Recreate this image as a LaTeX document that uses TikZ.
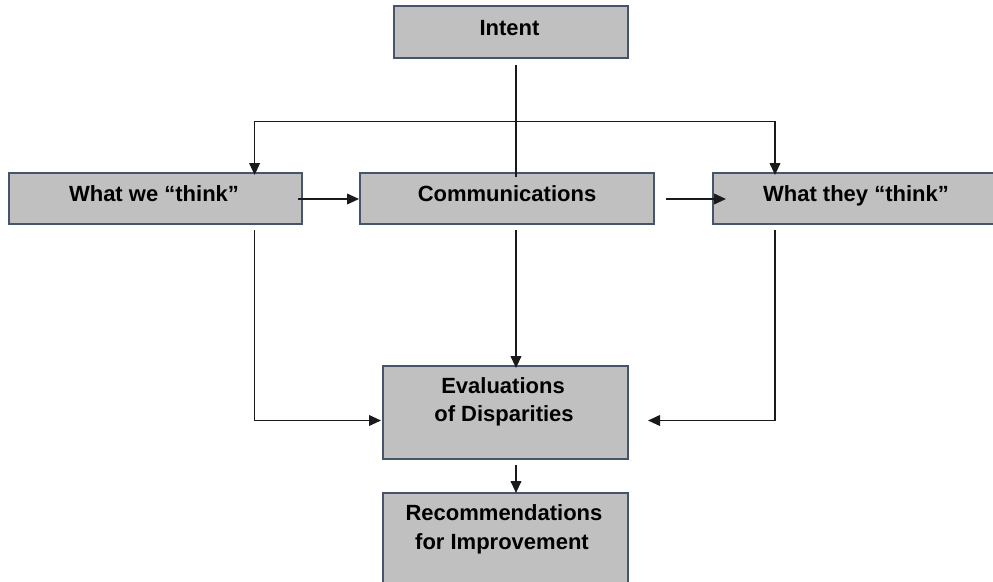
\documentclass[tikz,border=0pt]{standalone}
\usepackage{fontspec}
\setmainfont{Liberation Sans}
\usetikzlibrary{arrows.meta,calc}
\definecolor{boxfill}{HTML}{C0C0C0}
\definecolor{boxedge}{HTML}{46546C}
\definecolor{wirecol}{HTML}{1A1A1A}
\begin{document}
\begin{tikzpicture}[x=0.75pt,y=-0.75pt,
  box/.style={draw=boxedge,fill=boxfill,line width=1.5pt,rectangle,inner sep=0pt},
  lbl/.style={font=\bfseries\fontsize{16.5}{20}\selectfont,anchor=base,inner sep=0pt},
  wire/.style={draw=wirecol,line width=1.3pt},
  arr/.style={wire,-{Triangle[length=9pt,width=8pt]}}]
\clip (0,0) rectangle (993,582);
\fill[white] (0,0) rectangle (993,582);
% boxes
\node[box,minimum width=175.5pt,minimum height=39pt] (intent) at (511,31.5) {};
\node[box,minimum width=219.4pt,minimum height=38.25pt] (wwt) at (155.75,198.5) {};
\node[box,minimum width=220.5pt,minimum height=38.25pt] (comm) at (507,198.5) {};
\node[box,minimum width=214.5pt,minimum height=38.25pt] (wtt) at (856,198.5) {};
\node[box,minimum width=183.75pt,minimum height=69.75pt] (eval) at (505.5,412.5) {};
\node[box,minimum width=183.75pt,minimum height=75pt] (rec) at (505.5,543) {};
% guide coordinates
\coordinate (jn) at (516,121.4);
\coordinate (lx) at (254.6,0);
\coordinate (rx) at (775,0);
% connectors
\draw[wire] ($(intent.south -| jn)+(0,6)$) -- ($(comm.north -| jn)+(0,5)$);
\draw[arr] (jn) -| ($(wwt.north -| lx)+(0,3)$);
\draw[arr] (jn) -| ($(wtt.north -| rx)+(0,3)$);
\draw[arr] ($(wwt.east)+(-5,0.5)$) -- ($(comm.west)+(0,0.5)$);
\draw[arr] ($(comm.east)+(11,0.5)$) -- ($(wtt.west)+(14,0.5)$);
\draw[arr] ($(wwt.south -| lx)+(0,5)$) |- ($(eval.west)+(-1,8)$);
\draw[arr] ($(wtt.south -| rx)+(0,5)$) |- ($(eval.east)+(19,8)$);
\draw[arr] ($(comm.south -| jn)+(0,5)$) -- ($(eval.north -| jn)+(0,3)$);
\draw[arr] ($(eval.south -| jn)+(0,5)$) -- ($(rec.north -| jn)+(0,1)$);
% labels
\node[lbl] (tIntent) at (509.5,35) {Intent};
\node[lbl] (tWwt) at (154,201.7) {What we “think”};
\node[lbl] (tComm) at (507,201.7) {Communications};
\node[lbl] (tWtt) at (856,201.7) {What they “think”};
\node[lbl] (tEvalA) at (503,393.3) {Evaluations};
\node[lbl] (tEvalB) at (504,421.7) {of Disparities};
\node[lbl] (tRecA) at (504,520.7) {Recommendations};
\node[lbl] (tRecB) at (502,549) {for Improvement};
\end{tikzpicture}
\end{document}
